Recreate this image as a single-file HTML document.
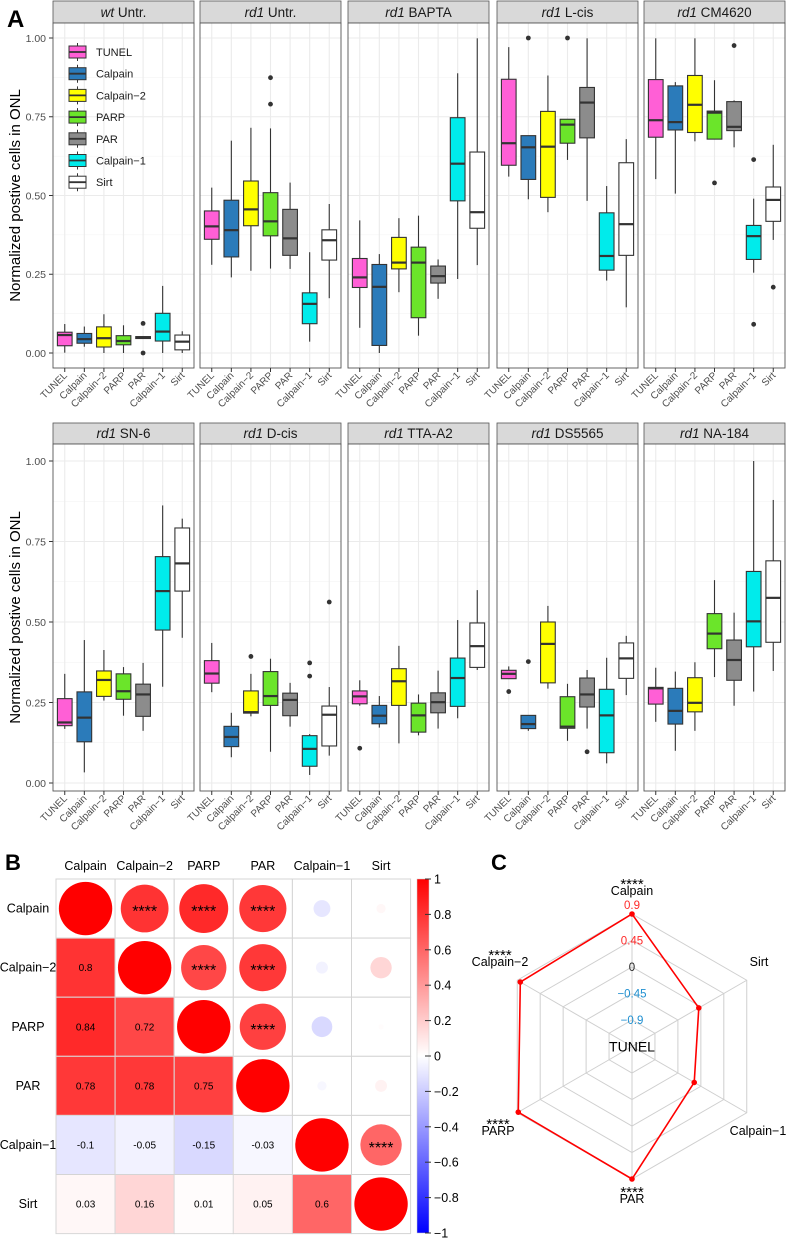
<!DOCTYPE html>
<html><head><meta charset="utf-8">
<style>
html,body{margin:0;padding:0;background:#fff;}
svg{display:block;font-family:"Liberation Sans",Arial,sans-serif;}
</style></head>
<body>
<svg id="fig" width="788" height="1240" viewBox="0 0 788 1240" xmlns="http://www.w3.org/2000/svg"></svg>
<script>
// ---------- Data: panel A ----------
const categories = ["TUNEL","Calpain","Calpain\u22122","PARP","PAR","Calpain\u22121","Sirt"];
const facetTitles = [["wt"," Untr."],["rd1"," Untr."],["rd1"," BAPTA"],["rd1"," L-cis"],["rd1"," CM4620"],
                     ["rd1"," SN-6"],["rd1"," D-cis"],["rd1"," TTA-A2"],["rd1"," DS5565"],["rd1"," NA-184"]];
const yTicks = [0,0.25,0.5,0.75,1];
const yTickLabels = ["0.00","0.25","0.50","0.75","1.00"];
// each box: [low, q1, median, q3, high]
const boxStats = [
 [[0.001,0.023,0.057,0.066,0.092],[0.02,0.031,0.044,0.062,0.084],[0,0.019,0.047,0.083,0.123],[0,0.026,0.038,0.055,0.088],[0.045,0.046,0.05,0.052,0.053],[0,0.038,0.068,0.126,0.213],[0,0.01,0.036,0.057,0.069]],
 [[0.28,0.361,0.402,0.451,0.525],[0.24,0.305,0.39,0.485,0.674],[0.261,0.404,0.456,0.546,0.715],[0.268,0.372,0.418,0.509,0.713],[0.267,0.31,0.364,0.456,0.541],[0.036,0.093,0.156,0.191,0.32],[0.174,0.295,0.358,0.391,0.473]],
 [[0.08,0.208,0.24,0.30,0.421],[0,0.024,0.21,0.281,0.314],[0.193,0.267,0.287,0.367,0.428],[0.055,0.112,0.287,0.336,0.436],[0.172,0.222,0.244,0.276,0.297],[0.235,0.483,0.601,0.747,0.888],[0.279,0.396,0.447,0.638,0.999]],
 [[0.56,0.596,0.666,0.869,0.971],[0.488,0.551,0.653,0.69,0.69],[0.447,0.494,0.655,0.767,0.881],[0.613,0.666,0.725,0.742,0.742],[0.483,0.683,0.795,0.843,0.999],[0.23,0.263,0.308,0.445,0.53],[0.145,0.31,0.409,0.604,0.679]],
 [[0.552,0.685,0.739,0.868,0.999],[0.506,0.708,0.733,0.848,0.86],[0.672,0.70,0.788,0.881,0.999],[0.679,0.679,0.763,0.768,0.866],[0.653,0.706,0.718,0.798,0.802],[0.255,0.297,0.371,0.405,0.49],[0.359,0.418,0.486,0.527,0.661]],
 [[0.168,0.178,0.188,0.262,0.339],[0.033,0.128,0.203,0.283,0.444],[0.256,0.269,0.32,0.348,0.413],[0.209,0.26,0.285,0.339,0.36],[0.162,0.207,0.275,0.307,0.373],[0.299,0.475,0.596,0.703,0.862],[0.451,0.596,0.682,0.792,0.821]],
 [[0.282,0.31,0.34,0.38,0.435],[0.08,0.113,0.143,0.176,0.218],[0.207,0.217,0.22,0.286,0.339],[0.097,0.241,0.27,0.346,0.386],[0.175,0.209,0.258,0.279,0.311],[0.025,0.052,0.106,0.147,0.152],[0.085,0.115,0.212,0.239,0.298]],
 [[0.24,0.246,0.269,0.286,0.319],[0.172,0.184,0.209,0.241,0.27],[0.123,0.241,0.316,0.355,0.426],[0.148,0.158,0.21,0.248,0.275],[0.169,0.218,0.251,0.28,0.349],[0.201,0.238,0.326,0.388,0.506],[0.351,0.359,0.425,0.497,0.599]],
 [[0.324,0.324,0.339,0.35,0.362],[0.162,0.169,0.183,0.21,0.21],[0.293,0.311,0.432,0.50,0.55],[0.131,0.17,0.175,0.268,0.308],[0.169,0.236,0.275,0.326,0.351],[0.061,0.094,0.21,0.291,0.389],[0.273,0.325,0.387,0.435,0.457]],
 [[0.19,0.245,0.294,0.297,0.358],[0.10,0.183,0.224,0.294,0.346],[0.162,0.221,0.249,0.327,0.375],[0.329,0.417,0.464,0.526,0.63],[0.24,0.319,0.382,0.444,0.529],[0.284,0.423,0.502,0.657,1.0],[0.348,0.437,0.575,0.69,0.879]]
];
// outliers: [facet, category, value]
const outliers = [[0,4,0.094],[0,4,0],[1,3,0.874],[1,3,0.79],[3,1,1.0],[3,3,1.0],[4,4,0.976],[4,3,0.54],[4,5,0.614],[4,5,0.091],[4,6,0.209],
  [6,2,0.393],[6,5,0.373],[6,5,0.332],[6,6,0.562],[7,0,0.108],[8,0,0.284],[8,1,0.377],[8,4,0.097]];
const catColors = ["#ff5fd6","#2b7bba","#ffff00","#6be52a","#8c8c8c","#00ebeb","#ffffff"];

// ---------- Data: panel B ----------
const corrLabels = ["Calpain","Calpain\u22122","PARP","PAR","Calpain\u22121","Sirt"];
const corrRows = [
 [1,0.8,0.84,0.78,-0.1,0.03],
 [0.8,1,0.72,0.78,-0.05,0.16],
 [0.84,0.72,1,0.75,-0.15,0.01],
 [0.78,0.78,0.75,1,-0.03,0.05],
 [-0.1,-0.05,-0.15,-0.03,1,0.6],
 [0.03,0.16,0.01,0.05,0.6,1]];
const corrSig = [[0,1],[0,2],[0,3],[1,2],[1,3],[2,3],[4,5]];
const colorbarTicks = [1,0.8,0.6,0.4,0.2,0,-0.2,-0.4,-0.6,-0.8,-1];

// ---------- Data: panel C ----------
const radarAxes = ["Calpain","Sirt","Calpain\u22121","PAR","PARP","Calpain\u22122"];
const radarValues = [0.9,-0.04,-0.13,0.9,0.88,0.84];
const radarSig = [true,false,false,true,true,true];
const radarRings = [-0.9,-0.45,0,0.45,0.9];
const radarRingLabels = ["\u22120.9","\u22120.45","0","0.45","0.9"];

// ---------- helpers ----------
const NS="http://www.w3.org/2000/svg";
const svg=document.getElementById('fig');
function mk(tag,attrs,parent,text){const e=document.createElementNS(NS,tag);for(const k in attrs)e.setAttribute(k,attrs[k]);if(text!==undefined)e.textContent=text;(parent||svg).appendChild(e);return e;}

// ---------- Panel A ----------
const facetLeft=[53,200,348,497,644], facetW=141;
const rows=[{stripTop:1,top:23,bottom:368,y0:353,k:315},{stripTop:423,top:444,bottom:791,y0:783,k:322}];
const unit=facetW/7.2;
function xCat(f,c){return facetLeft[f%5]+unit*(0.6+c);}
function yVal(f,v){const r=rows[Math.floor(f/5)];return r.y0-r.k*v;}

const pA=mk('g',{});


const lblA=mk('text',{x:7,y:27,'font-size':24,'font-weight':'bold'},pA,'A');



for(let ri=0;ri<2;ri++){
  const r=rows[ri];
  const yt=mk('text',{x:0,y:0,'font-size':15,'text-anchor':'middle',transform:`translate(20,${(r.top+r.bottom)/2}) rotate(-90)`},pA,'Normalized postive cells in ONL');
  
  
  yTicks.forEach((t,i)=>{
    const y=r.y0-r.k*t;
    mk('line',{x1:49,x2:53,y1:y,y2:y,stroke:'#333','stroke-width':1},pA);
    const tl=mk('text',{x:46,y:y+3.8,'font-size':10.5,'text-anchor':'end',fill:'#4d4d4d'},pA,yTickLabels[i]);
    
    
  });
}

for(let f=0;f<10;f++){
  const r=rows[Math.floor(f/5)], L=facetLeft[f%5];
  const g=mk('g',{},pA);
  
  
  const st=mk('rect',{x:L,y:r.stripTop,width:facetW,height:r.top-r.stripTop,fill:'#d9d9d9',stroke:'#555','stroke-width':0.8},g);
  
  
  const stt=mk('text',{x:L+facetW/2,y:r.top-6,'font-size':13.5,'text-anchor':'middle',fill:'#1a1a1a'},g);
  
  
  mk('tspan',{'font-style':'italic'},stt,facetTitles[f][0]);
  mk('tspan',{},stt,facetTitles[f][1]);
  mk('rect',{x:L,y:r.top,width:facetW,height:r.bottom-r.top,fill:'#fff'},g);
  [0.125,0.375,0.625,0.875].forEach(t=>{const y=yVal(f,t);mk('line',{x1:L,x2:L+facetW,y1:y,y2:y,stroke:'#f2f2f2','stroke-width':0.6},g);});
  yTicks.forEach(t=>{const y=yVal(f,t);mk('line',{x1:L,x2:L+facetW,y1:y,y2:y,stroke:'#ebebeb','stroke-width':1.1},g);});
  categories.forEach((c,ci)=>{const x=xCat(f,ci);mk('line',{x1:x,x2:x,y1:r.top,y2:r.bottom,stroke:'#ebebeb','stroke-width':1.1},g);});
  categories.forEach((c,ci)=>{
    const s=boxStats[f][ci], x=xCat(f,ci), bw=unit*0.75;
    const bg=mk('g',{},g);
    
    
    mk('line',{x1:x,x2:x,y1:yVal(f,s[4]),y2:yVal(f,s[3]),stroke:'#333','stroke-width':1.1},bg);
    mk('line',{x1:x,x2:x,y1:yVal(f,s[1]),y2:yVal(f,s[0]),stroke:'#333','stroke-width':1.1},bg);
    mk('rect',{x:x-bw/2,y:yVal(f,s[3]),width:bw,height:Math.max(0.5,yVal(f,s[1])-yVal(f,s[3])),fill:catColors[ci],stroke:'#333','stroke-width':1.1},bg);
    mk('line',{x1:x-bw/2,x2:x+bw/2,y1:yVal(f,s[2]),y2:yVal(f,s[2]),stroke:'#333','stroke-width':2.2},bg);
  });
  outliers.filter(o=>o[0]===f).forEach(o=>{
    const pt=mk('circle',{cx:xCat(f,o[1]),cy:yVal(f,o[2]),r:2.4,fill:'#333'},g);
    
    
  });
  mk('rect',{x:L,y:r.top,width:facetW,height:r.bottom-r.top,fill:'none',stroke:'#555','stroke-width':0.9},g);
  categories.forEach((c,ci)=>{
    const x=xCat(f,ci);
    mk('line',{x1:x,x2:x,y1:r.bottom,y2:r.bottom+4,stroke:'#333','stroke-width':1},g);
    const xl=mk('text',{x:0,y:0,'font-size':10,'text-anchor':'end',fill:'#4d4d4d',transform:`translate(${x+3},${r.bottom+8}) rotate(-45)`},g,c);
    
    
  });
}
const leg=mk('g',{},pA);


categories.forEach((c,ci)=>{
  const cy=52+ci*21.7;
  const e=mk('g',{},leg);
  
  
  mk('line',{x1:77.5,x2:77.5,y1:cy-9,y2:cy+9,stroke:'#333','stroke-width':1},e);
  mk('rect',{x:69,y:cy-6,width:17,height:12,fill:catColors[ci],stroke:'#333','stroke-width':1},e);
  mk('line',{x1:69,x2:86,y1:cy,y2:cy,stroke:'#333','stroke-width':1.8},e);
  mk('text',{x:96,y:cy+4,'font-size':11,fill:'#1a1a1a'},e,c);
});

// ---------- Panel B ----------
const pB=mk('g',{});


const lblB=mk('text',{x:5,y:870,'font-size':22,'font-weight':'bold'},pB,'B');


const gx0=56,gy0=879,cell=59.1;
function corrColor(v){
  if(v>=0){const c=Math.round(255*(1-v));return `rgb(255,${c},${c})`;}
  const c=Math.round(255*(1+v));return `rgb(${c},${c},255)`;
}
corrLabels.forEach((l,i)=>{
  const ct=mk('text',{x:gx0+cell*(i+0.5),y:870,'font-size':12.5,'text-anchor':'middle'},pB,l);
  
  
  const rt=mk('text',{x:28,y:gy0+cell*(i+0.5)+4,'font-size':12.5,'text-anchor':'middle'},pB,l);
  
  
});
for(let i=0;i<6;i++)for(let j=0;j<6;j++){
  const v=corrRows[i][j], x=gx0+cell*j, y=gy0+cell*i;
  mk('rect',{x:x,y:y,width:cell,height:cell,fill:'#fff',stroke:'#d4d4d4','stroke-width':1},pB);
  if(i>j){
    const sq=mk('rect',{x:x+0.5,y:y+0.5,width:cell-1,height:cell-1,fill:corrColor(v)},pB);
    
    
    mk('text',{x:x+cell/2,y:y+cell/2+3.5,'font-size':10,'text-anchor':'middle'},pB,String(v));
  } else {
    const cc=mk('circle',{cx:x+cell/2,cy:y+cell/2,r:26.7*Math.sqrt(Math.abs(v)),fill:corrColor(v)},pB);
    
    
  }
}
corrSig.forEach(p=>{
  mk('text',{x:gx0+cell*(p[1]+0.5),y:gy0+cell*(p[0]+0.5)+8,'font-size':16,'text-anchor':'middle'},pB,'****');
});
const defs=mk('defs',{});
const lg=mk('linearGradient',{id:'cbar',x1:0,y1:0,x2:0,y2:1},defs);
mk('stop',{offset:'0%','stop-color':'#ff0000'},lg);
mk('stop',{offset:'50%','stop-color':'#ffffff'},lg);
mk('stop',{offset:'100%','stop-color':'#0000ff'},lg);
const cb=mk('rect',{x:417,y:879,width:12,height:354,fill:'url(#cbar)',stroke:'#ccc','stroke-width':0.5},pB);


colorbarTicks.forEach(t=>{
  const y=879+(1-t)/2*354;
  mk('line',{x1:425,x2:431,y1:y,y2:y,stroke:'#333','stroke-width':1},pB);
  const tl=mk('text',{x:434,y:y+4.5,'font-size':12.5},pB,t<0?'\u2212'+Math.abs(t):String(t));
  
  
});

// ---------- Panel C ----------
const pC=mk('g',{});


const lblC=mk('text',{x:491,y:870,'font-size':22,'font-weight':'bold'},pC,'C');


const rcx=632,rcy=1046.5,R=132.5;
function rr(v){return (v+1.35)/2.25*R;}
function ang(i){return (-90+60*i)*Math.PI/180;}
radarRings.forEach(v=>{
  const pts=radarAxes.map((a,i)=>[rcx+rr(v)*Math.cos(ang(i)),rcy+rr(v)*Math.sin(ang(i))].join(',')).join(' ');
  mk('polygon',{points:pts,fill:'none',stroke:'#cfcfcf','stroke-width':1},pC);
});
radarAxes.forEach((a,i)=>{mk('line',{x1:rcx,y1:rcy,x2:rcx+R*Math.cos(ang(i)),y2:rcy+R*Math.sin(ang(i)),stroke:'#cfcfcf','stroke-width':1},pC);});
const ringColors=['#1f8fd0','#1f8fd0','#222','#ff2a2a','#ff2a2a'];
radarRings.forEach((v,i)=>{
  const y=(i===4)?rcy-rr(v)-5:rcy-rr(v)+4;
  const t=mk('text',{x:rcx,y:y,'font-size':11.5,'text-anchor':'middle',fill:ringColors[i]},pC,radarRingLabels[i]);
  
  
});
const rpts=radarValues.map((v,i)=>[rcx+rr(v)*Math.cos(ang(i)),rcy+rr(v)*Math.sin(ang(i))]);
const rl=mk('polygon',{points:rpts.map(p=>p.join(',')).join(' '),fill:'none',stroke:'#ff0000','stroke-width':1.6},pC);


rpts.forEach(p=>{
  const d=mk('circle',{cx:p[0],cy:p[1],r:2.8,fill:'#ff0000'},pC);
  
  
});
const axLabelPos=[[632,895,'middle'],[759,966,'middle'],[758,1135,'middle'],[632,1203,'middle'],[498,1135,'middle'],[500,966,'middle']];
radarAxes.forEach((a,i)=>{
  const p=axLabelPos[i];
  const t=mk('text',{x:p[0],y:p[1],'font-size':12.5,'text-anchor':p[2]},pC,a);
  
  
  if(radarSig[i]) mk('text',{x:p[0],y:p[1]-6,'font-size':15,'text-anchor':p[2]},pC,'****');
});
const tn=mk('text',{x:rcx,y:rcy+5,'font-size':14,'text-anchor':'middle'},pC,'TUNEL');


</script>
</body></html>
